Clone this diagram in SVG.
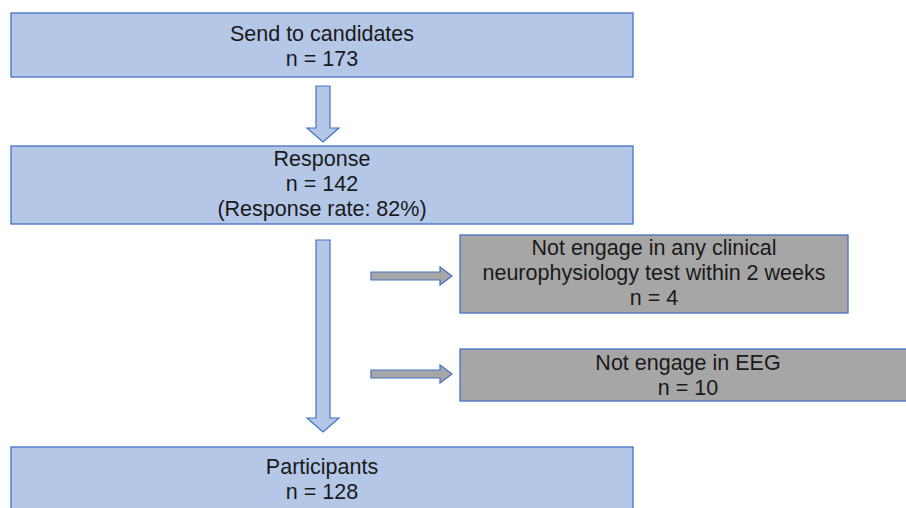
<svg xmlns="http://www.w3.org/2000/svg" width="906" height="508" viewBox="0 0 906 508">
<style>
.blue{fill:#b4c7e7;stroke:#4472c4;stroke-width:1.3}
.gray{fill:#a6a6a6;stroke:#4472c4;stroke-width:1.3}
.arr{fill:#b4c7e7;stroke:#4472c4;stroke-width:1.2}
.garr{fill:#a6a6a6;stroke:#4472c4;stroke-width:1.2}
text{font-family:"Liberation Sans",Arial,sans-serif;font-size:21.5px;fill:#1a1a1a;text-anchor:middle}
</style>
<rect width="906" height="508" fill="#ffffff"/>
<g id="connectors">
<polygon class="arr" points="316,86 330,86 330,128 339,128 323,142 307,128 316,128"/>
<polygon class="arr" points="316,240 330,240 330,418 339,418 323,432 307,418 316,418"/>
<polygon class="garr" points="371,272 440,272 440,267 452,276 440,285 440,280 371,280"/>
<polygon class="garr" points="371,370 440,370 440,365 452,374 440,383 440,378 371,378"/>
</g>
<g id="send">
<rect class="blue" x="11" y="13" width="622" height="64"/>
<text x="322" y="41">Send to candidates</text>
<text x="322" y="66">n = 173</text>
</g>
<g id="response">
<rect class="blue" x="11" y="146" width="622" height="78"/>
<text x="322" y="166">Response</text>
<text x="322" y="191">n = 142</text>
<text x="322" y="216">(Response rate: 82%)</text>
</g>
<g id="excl1">
<rect class="gray" x="460" y="235" width="388" height="78"/>
<text x="654" y="255">Not engage in any clinical</text>
<text x="654" y="280">neurophysiology test within 2 weeks</text>
<text x="654" y="305">n = 4</text>
</g>
<g id="excl2">
<rect class="gray" x="460" y="349" width="456" height="52"/>
<text x="688" y="370">Not engage in EEG</text>
<text x="688" y="395">n = 10</text>
</g>
<g id="participants">
<rect class="blue" x="11" y="447" width="622" height="70"/>
<text x="322" y="474">Participants</text>
<text x="322" y="499">n = 128</text>
</g>
</svg>
